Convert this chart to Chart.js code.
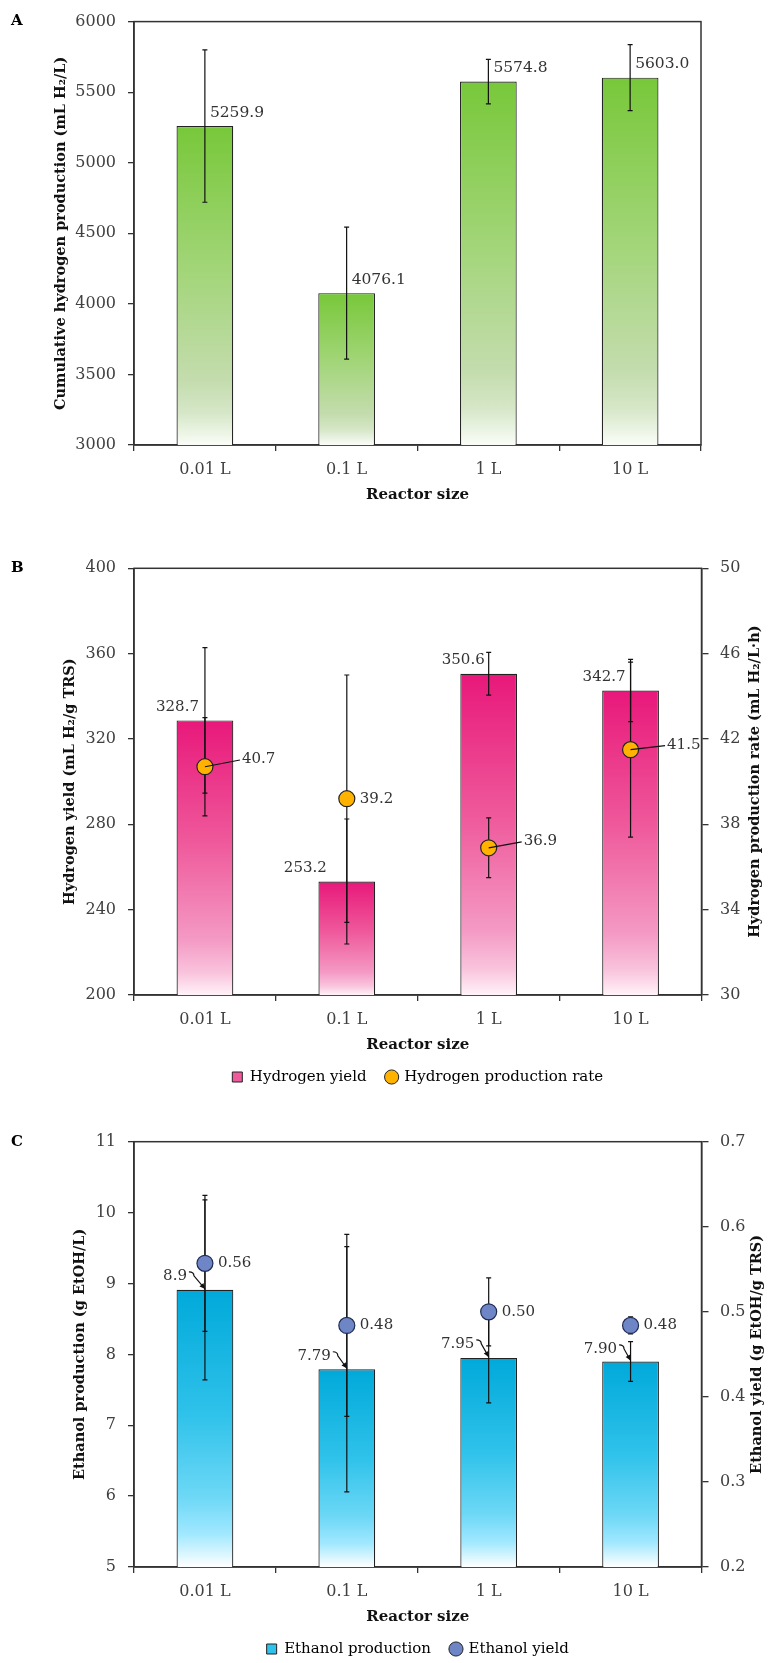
<!DOCTYPE html>
<html>
<head>
<meta charset="utf-8">
<script src="https://cdn.jsdelivr.net/npm/chart.js@4.4.1/dist/chart.umd.min.js"></script>
<style>
html, body { margin: 0; padding: 0; background: #fff; overflow: hidden; width: 769px; height: 1663px; }
canvas { position: absolute; left: 0; }
</style>
</head>
<body>
<canvas id="chartA" width="769" height="510" style="top:0px"></canvas>
<canvas id="chartB" width="769" height="590" style="top:510px"></canvas>
<canvas id="chartC" width="769" height="570" style="top:1100px"></canvas>
<script>
// categories
const reactorSizes = ['0.01 L', '0.1 L', '1 L', '10 L'];

// panel A - cumulative hydrogen production
const cumulativeH2 = [5259.9, 4076.1, 5574.8, 5603.0];
const cumulativeH2Err = [540, 467, 158, 234];
const ticksA = [3000, 3500, 4000, 4500, 5000, 5500, 6000];

// panel B - hydrogen yield (bars) and production rate (points)
const h2Yield = [328.7, 253.2, 350.6, 342.7];
const h2YieldErr = [34.1, 29.3, 10.0, 14.6];
const h2Rate = [40.7, 39.2, 36.9, 41.5];
const h2RateErr = [2.3, 5.8, 1.4, 4.1];
const ticksBLeft = [200, 240, 280, 320, 360, 400];
const ticksBRight = [30, 34, 38, 42, 46, 50];

// panel C - ethanol production (bars) and ethanol yield (points)
const etohProd = [8.91, 7.79, 7.95, 7.90];
const etohProdErr = [1.27, 1.73, 0.635, 0.28];
const etohProdLabels = ['8.9', '7.79', '7.95', '7.90'];
const etohYield = [0.557, 0.484, 0.50, 0.484];
const etohYieldErr = [0.08, 0.107, 0.04, 0.01];
const ticksCLeft = [5, 6, 7, 8, 9, 10, 11];
const ticksCRight = [0.2, 0.3, 0.4, 0.5, 0.6, 0.7];

Chart.defaults.font.family = 'DejaVu Serif';
Chart.defaults.animation = false;

const tickFont = { family: 'DejaVu Serif', size: 16 };
const titleFont = { family: 'DejaVu Serif', size: 14.5, weight: 'bold' };
const xTitleFont = { family: 'DejaVu Serif', size: 15, weight: 'bold' };
const legendFont = { family: 'DejaVu Serif', size: 15 };

// vertical gradient for each bar, from its top down to the axis
function barGradient(stops) {
    return function (c) {
        const chart = c.chart;
        if (!chart.chartArea || c.type !== 'data') return stops[0][1];
        const y = chart.scales.y;
        const top = y.getPixelForValue(c.raw);
        const bottom = y.getPixelForValue(y.min);
        const g = chart.ctx.createLinearGradient(0, top, 0, bottom);
        stops.forEach(s => g.addColorStop(s[0], s[1]));
        return g;
    };
}

const greenStops = [[0, '#78C83A'], [0.45, '#A2D578'], [0.8, '#C4DCAE'], [0.9, '#D6E7C8'], [1, '#FAFDF7']];
const pinkStops = [[0, '#E8187A'], [0.45, '#EF5A9C'], [0.8, '#F49AC4'], [0.92, '#F9C4DD'], [1, '#FFF2F8']];
const blueStops = [[0, '#00A9DA'], [0.45, '#2FC2EA'], [0.75, '#6ED8F6'], [0.88, '#A0E8FF'], [1, '#FFFFFF']];

function xAxis(height, titlePad) {
    return {
        grid: { drawOnChartArea: false, drawTicks: true, tickLength: 6, color: '#333', lineWidth: 1.3, offset: true },
        border: { display: true, color: '#333', width: 1.5 },
        ticks: { color: '#404040', font: tickFont, padding: 9 },
        title: { display: true, text: 'Reactor size', color: '#111', font: xTitleFont, padding: { top: 4, bottom: titlePad } },
        afterFit: s => { s.height = height; }
    };
}

function yAxis(ticks, width, title, position) {
    const ax = {
        position: position,
        min: ticks[0],
        max: ticks[ticks.length - 1],
        grid: { drawOnChartArea: false, drawTicks: true, tickLength: position === 'right' ? 7 : 6, color: '#333', lineWidth: 1.3 },
        border: { display: true, color: '#333', width: 1.5 },
        ticks: {
            stepSize: ticks[1] - ticks[0],
            color: '#404040',
            font: tickFont,
            padding: position === 'right' ? 11.5 : 12,
            callback: v => String(Math.round(v * 1000) / 1000)  // no thousands separator
        },
        afterFit: s => { s.width = width; }
    };
    if (title) ax.title = { display: true, text: title, color: '#111', font: titleFont, padding: { top: 4, bottom: 4 } };
    return ax;
}

// frame, panel letter and the right axis title (read bottom to top)
function decorations(letter, rightTitle, rightTitleX) {
    return {
        id: 'decorations',
        beforeDatasetsDraw(chart) {
            const { ctx, chartArea: a } = chart;
            ctx.save();
            ctx.strokeStyle = '#333';
            ctx.lineWidth = 1.5;
            ctx.strokeRect(a.left, a.top, a.right - a.left, a.bottom - a.top);
            ctx.restore();
        },
        afterDraw(chart) {
            const { ctx, chartArea: a } = chart;
            ctx.save();
            ctx.fillStyle = '#000';
            ctx.font = 'bold 15px "DejaVu Serif"';
            ctx.textBaseline = 'middle';
            ctx.fillText(letter, 11, a.top);
            if (rightTitle) {
                ctx.translate(rightTitleX, (a.top + a.bottom) / 2);
                ctx.rotate(-Math.PI / 2);
                ctx.textAlign = 'center';
                ctx.fillStyle = '#111';
                ctx.font = 'bold 14.5px "DejaVu Serif"';
                ctx.fillText(rightTitle, 0, 0);
            }
            ctx.restore();
        }
    };
}

// error bars, drawn after the bars and before the points
function errorBars(sets) {
    return {
        id: 'errorBars',
        afterDatasetDraw(chart, args) {
            if (args.index !== 0) return;
            const ctx = chart.ctx;
            ctx.save();
            ctx.strokeStyle = '#111';
            ctx.lineWidth = 1.2;
            sets.forEach(([di, errs]) => {
                const meta = chart.getDatasetMeta(di);
                const scale = chart.scales[meta.yAxisID];
                const vals = chart.data.datasets[di].data;
                meta.data.forEach((el, i) => {
                    const hi = scale.getPixelForValue(vals[i] + errs[i]);
                    const lo = scale.getPixelForValue(vals[i] - errs[i]);
                    ctx.beginPath();
                    ctx.moveTo(el.x, hi); ctx.lineTo(el.x, lo);
                    ctx.moveTo(el.x - 2.5, hi); ctx.lineTo(el.x + 2.5, hi);
                    ctx.moveTo(el.x - 2.5, lo); ctx.lineTo(el.x + 2.5, lo);
                    ctx.stroke();
                });
            });
            ctx.restore();
        }
    };
}

// value labels with optional leader lines
function dataLabels(specs) {
    return {
        id: 'dataLabels',
        afterDatasetsDraw(chart) {
            const ctx = chart.ctx;
            ctx.save();
            specs.forEach(s => {
                const meta = chart.getDatasetMeta(s.dataset);
                meta.data.forEach((el, i) => {
                    const dx = Array.isArray(s.dx) ? s.dx[i] : s.dx;
                    const dy = Array.isArray(s.dy) ? s.dy[i] : s.dy;
                    const tx = el.x + dx, ty = el.y + dy;
                    ctx.font = s.font;
                    ctx.fillStyle = '#333';
                    ctx.textAlign = s.align;
                    ctx.textBaseline = 'middle';
                    ctx.fillText(s.texts[i], tx, ty);
                    const lead = s.leader ? s.leader[i] : null;
                    ctx.strokeStyle = '#111';
                    ctx.fillStyle = '#111';
                    ctx.lineWidth = 1.2;
                    if (lead === 'line') {
                        ctx.beginPath();
                        ctx.moveTo(el.x, el.y);
                        ctx.lineTo(tx - 2, ty + 1);
                        ctx.stroke();
                    } else if (lead === 'arrow') {
                        const sx = tx + 2, sy = ty - 4;
                        const ex = el.x, ey = el.y - 1;
                        ctx.beginPath();
                        ctx.moveTo(sx, sy);
                        ctx.quadraticCurveTo(sx + 5, sy, sx + 5, sy + 4);
                        ctx.lineTo(ex, ey);
                        ctx.stroke();
                        const ang = Math.atan2(ey - (sy + 4), ex - (sx + 5));
                        ctx.beginPath();
                        ctx.moveTo(ex, ey);
                        ctx.lineTo(ex - 6 * Math.cos(ang - 0.45), ey - 6 * Math.sin(ang - 0.45));
                        ctx.lineTo(ex - 6 * Math.cos(ang + 0.45), ey - 6 * Math.sin(ang + 0.45));
                        ctx.closePath();
                        ctx.fill();
                    }
                });
            });
            ctx.restore();
        }
    };
}

function legendOptions(colors) {
    return {
        display: true,
        position: 'bottom',
        fullSize: false,
        labels: {
            usePointStyle: true,
            boxWidth: 10,
            boxHeight: 10,
            padding: 20,
            font: legendFont,
            color: '#333',
            generateLabels(chart) {
                return chart.data.datasets.map((ds, i) => ({
                    text: ds.label,
                    datasetIndex: i,
                    fillStyle: colors[i],
                    strokeStyle: '#222',
                    lineWidth: 1,
                    pointStyle: ds.type === 'line' ? 'circle' : 'rect',
                    hidden: false
                }));
            }
        }
    };
}

// ---------- A ----------
new Chart(document.getElementById('chartA'), {
    type: 'bar',
    data: {
        labels: reactorSizes,
        datasets: [{
            label: 'Cumulative hydrogen production',
            data: cumulativeH2,
            backgroundColor: barGradient(greenStops),
            borderColor: '#222',
            borderWidth: 1.2,
            borderSkipped: false,
            categoryPercentage: 1,
            barPercentage: 0.4
        }]
    },
    options: {
        responsive: false,
        events: [],
        layout: { padding: { top: 19, left: 48.5, right: 68, bottom: 0 } },
        plugins: { legend: { display: false }, tooltip: { enabled: false } },
        scales: {
            x: xAxis(65, 6),
            y: yAxis(ticksA, 85.5, 'Cumulative hydrogen production (mL H₂/L)', 'left')
        }
    },
    plugins: [
        decorations('A'),
        errorBars([[0, cumulativeH2Err]]),
        dataLabels([{ dataset: 0, texts: cumulativeH2.map(v => v.toFixed(1)), align: 'left', dx: 5, dy: -13.5, font: '15.5px "DejaVu Serif"' }])
    ]
});

// ---------- B ----------
new Chart(document.getElementById('chartB'), {
    type: 'bar',
    data: {
        labels: reactorSizes,
        datasets: [{
            label: 'Hydrogen yield',
            data: h2Yield,
            yAxisID: 'y',
            order: 1,
            backgroundColor: barGradient(pinkStops),
            borderColor: '#222',
            borderWidth: 1.2,
            borderSkipped: false,
            categoryPercentage: 1,
            barPercentage: 0.4
        }, {
            type: 'line',
            label: 'Hydrogen production rate',
            data: h2Rate,
            yAxisID: 'y1',
            order: 0,
            showLine: false,
            pointRadius: 8,
            pointBackgroundColor: '#FFB300',
            pointBorderColor: '#222',
            pointBorderWidth: 1.2
        }]
    },
    options: {
        responsive: false,
        events: [],
        layout: { padding: { top: 58.3, left: 58, right: 0, bottom: 5.5 } },
        plugins: { legend: legendOptions(['#EE5A9C', '#FFB300']), tooltip: { enabled: false } },
        scales: {
            x: xAxis(54.5, -4.5),
            y: yAxis(ticksBLeft, 76, 'Hydrogen yield (mL H₂/g TRS)', 'left'),
            y1: yAxis(ticksBRight, 67.5, null, 'right')
        }
    },
    plugins: [
        decorations('B', 'Hydrogen production rate (mL H₂/L·h)', 755),
        errorBars([[0, h2YieldErr], [1, h2RateErr]]),
        dataLabels([
            { dataset: 0, texts: h2Yield.map(v => v.toFixed(1)), align: 'right', dx: [-6, -20, -4, -5], dy: -13.5, font: '15px "DejaVu Serif"' },
            { dataset: 1, texts: h2Rate.map(v => v.toFixed(1)), align: 'left', dx: [37, 13, 35, 36.5], dy: [-7.7, 0, -7, -5], leader: ['line', null, 'line', 'line'], font: '15px "DejaVu Serif"' }
        ])
    ]
});

// ---------- C ----------
new Chart(document.getElementById('chartC'), {
    type: 'bar',
    data: {
        labels: reactorSizes,
        datasets: [{
            label: 'Ethanol production',
            data: etohProd,
            yAxisID: 'y',
            order: 1,
            backgroundColor: barGradient(blueStops),
            borderColor: '#222',
            borderWidth: 1.2,
            borderSkipped: false,
            categoryPercentage: 1,
            barPercentage: 0.4
        }, {
            type: 'line',
            label: 'Ethanol yield',
            data: etohYield,
            yAxisID: 'y1',
            order: 0,
            showLine: false,
            pointRadius: 8,
            pointBackgroundColor: '#6F86C6',
            pointBorderColor: '#1E2B55',
            pointBorderWidth: 1.2
        }]
    },
    options: {
        responsive: false,
        events: [],
        layout: { padding: { top: 41.7, left: 68, right: 0, bottom: 3.5 } },
        plugins: { legend: legendOptions(['#2FC2EA', '#6F86C6']), tooltip: { enabled: false } },
        scales: {
            x: xAxis(54.5, -4.5),
            y: yAxis(ticksCLeft, 66, 'Ethanol production (g EtOH/L)', 'left'),
            y1: yAxis(ticksCRight, 67.5, null, 'right')
        }
    },
    plugins: [
        decorations('C', 'Ethanol yield (g EtOH/g TRS)', 757),
        errorBars([[0, etohProdErr], [1, etohYieldErr]]),
        dataLabels([
            { dataset: 0, texts: etohProdLabels, align: 'right', dx: [-18, -16, -14.4, -13.5], dy: [-14, -13.5, -14, -12.5], leader: ['arrow', 'arrow', 'arrow', 'arrow'], font: '15px "DejaVu Serif"' },
            { dataset: 1, texts: etohYield.map(v => v.toFixed(2)), align: 'left', dx: 13, dy: 0, font: '15px "DejaVu Serif"' }
        ])
    ]
});
</script>
</body>
</html>
